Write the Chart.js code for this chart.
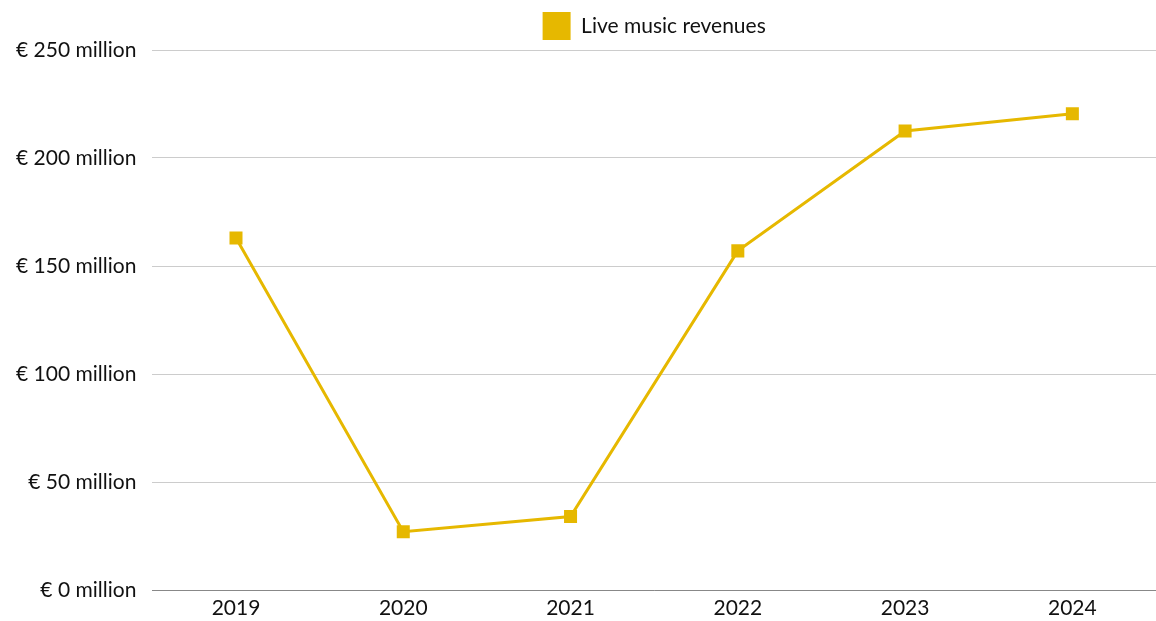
<!DOCTYPE html>
<html>
<head>
<meta charset="utf-8">
<script src="https://cdn.jsdelivr.net/npm/chart.js@4"></script>
<style>
  html, body { margin: 0; padding: 0; background: #fff; }
  #wrap { width: 1156px; height: 621px; }
</style>
</head>
<body>
<div id="wrap"><canvas id="revenueChart"></canvas></div>
<script>
const years = ["2019", "2020", "2021", "2022", "2023", "2024"];
const liveRevenues = [163, 27, 34, 157, 212.5, 220.5]; // € million
const yTicks = [0, 50, 100, 150, 200, 250];

const gold = "#e6b800";
const fontFamily = "Lato, 'Source Sans Pro', sans-serif";

const ctx = document.getElementById("revenueChart").getContext("2d");
new Chart(ctx, {
  type: "line",
  data: {
    labels: years,
    datasets: [
      {
        label: "Live music revenues",
        data: liveRevenues,
        borderColor: gold,
        backgroundColor: gold,
        borderWidth: 3,
        pointStyle: "rect",
        pointRadius: 9.2,
        pointBorderWidth: 0,
        tension: 0,
      },
    ],
  },
  options: {
    responsive: true,
    maintainAspectRatio: false,
    animation: false,
    layout: { autoPadding: false, padding: { top: 6, right: 0, bottom: 0, left: 0 } },
    plugins: {
      tooltip: { enabled: false },
      legend: {
        position: "top",
        fullSize: false,
        labels: {
          boxWidth: 28,
          boxHeight: 28,
          color: "#111",
          font: { family: fontFamily, size: 21 },
          padding: 6,
          // plain filled square, no outline
          generateLabels: (chart) =>
            Chart.defaults.plugins.legend.labels.generateLabels(chart).map((item) => ({
              ...item,
              lineWidth: 0,
            })),
        },
      },
    },
    scales: {
      x: {
        offset: true,
        grid: { display: false, drawTicks: false },
        border: { color: "#888", width: 1 },
        ticks: {
          color: "#111",
          padding: 8,
          font: { family: fontFamily, size: 21, lineHeight: 1 },
        },
        // padding is counted twice by fit(); keep the year row tight
        afterFit: (scale) => {
          scale.height = 31;
        },
      },
      y: {
        min: 0,
        max: 250,
        afterBuildTicks: (axis) => {
          axis.ticks = yTicks.map((v) => ({ value: v }));
        },
        grid: { color: "#cccccc", drawTicks: false },
        border: { display: false },
        ticks: {
          color: "#111",
          padding: 16,
          font: { family: fontFamily, size: 21 },
          callback: (v) => "€ " + v + " million",
        },
      },
    },
  },
});
</script>
</body>
</html>
